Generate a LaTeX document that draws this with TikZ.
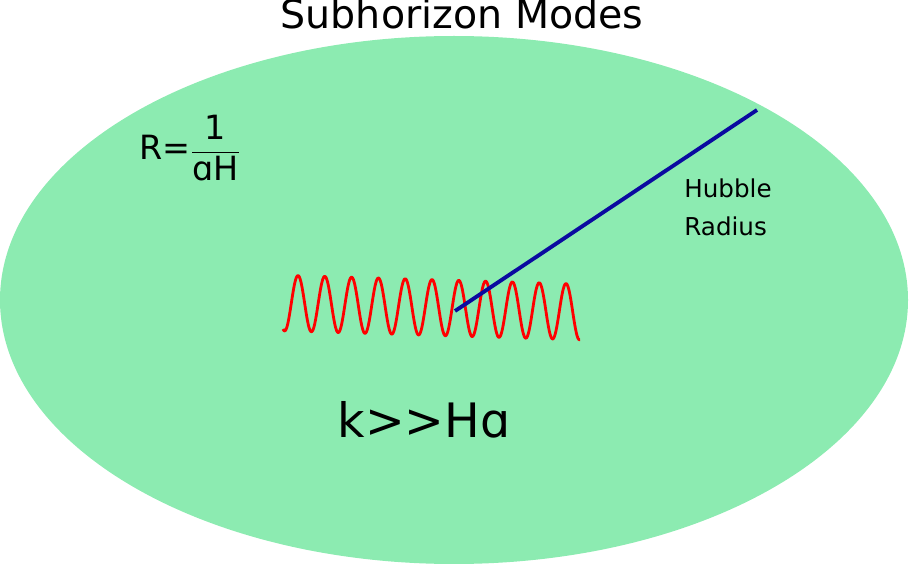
\documentclass[tikz,border=0pt]{standalone}
\usepackage{fontspec}
\setmainfont{DejaVu Sans}[Ligatures=NoCommon]
\definecolor{fieldgreen}{HTML}{8CEBB1}
\definecolor{radiusblue}{HTML}{0A0AA0}
\begin{document}
\begin{tikzpicture}[
        x=0.02cm, y=-0.02cm,
        labelNode/.style={inner sep=0pt, anchor=base},
        radiusLine/.style={draw=radiusblue, line width=2.2pt}
    ]
        \useasboundingbox (0,0) rectangle (909,564);

        % Horizon
        \fill[fieldgreen] (454,300) ellipse [x radius=454, y radius=264];

        % Title
        \node[labelNode, font=\fontsize{22.5}{27}\selectfont] (title) at (462,29) {Subhorizon Modes};

        % Mode
        \draw[red, line width=1.6pt, line join=round] plot[domain=283:580, samples=300, smooth]
            (\x, {303 + 0.03*(\x-283) - 28*cos(13.433*(\x-298))});

        % Hubble radius
        \coordinate (centre) at (455,311);
        \coordinate (edge) at (757,110);
        \draw[radiusLine] (centre) -- (edge);
        \node[labelNode, align=left, anchor=north west, font=\fontsize{14}{22}\selectfont] (hubble) at (684,178) {Hubble\\Radius};

        % Labels
        \node[labelNode, font=\fontsize{19}{23}\selectfont] (radius) at (190,160) {R=$\displaystyle\frac{\mbox{1}}{\mbox{ɑH}}$};
        \node[labelNode, font=\fontsize{27}{32}\selectfont] (scale) at (424,437) {k{>}{>}Hɑ};
    \end{tikzpicture}
\end{document}
